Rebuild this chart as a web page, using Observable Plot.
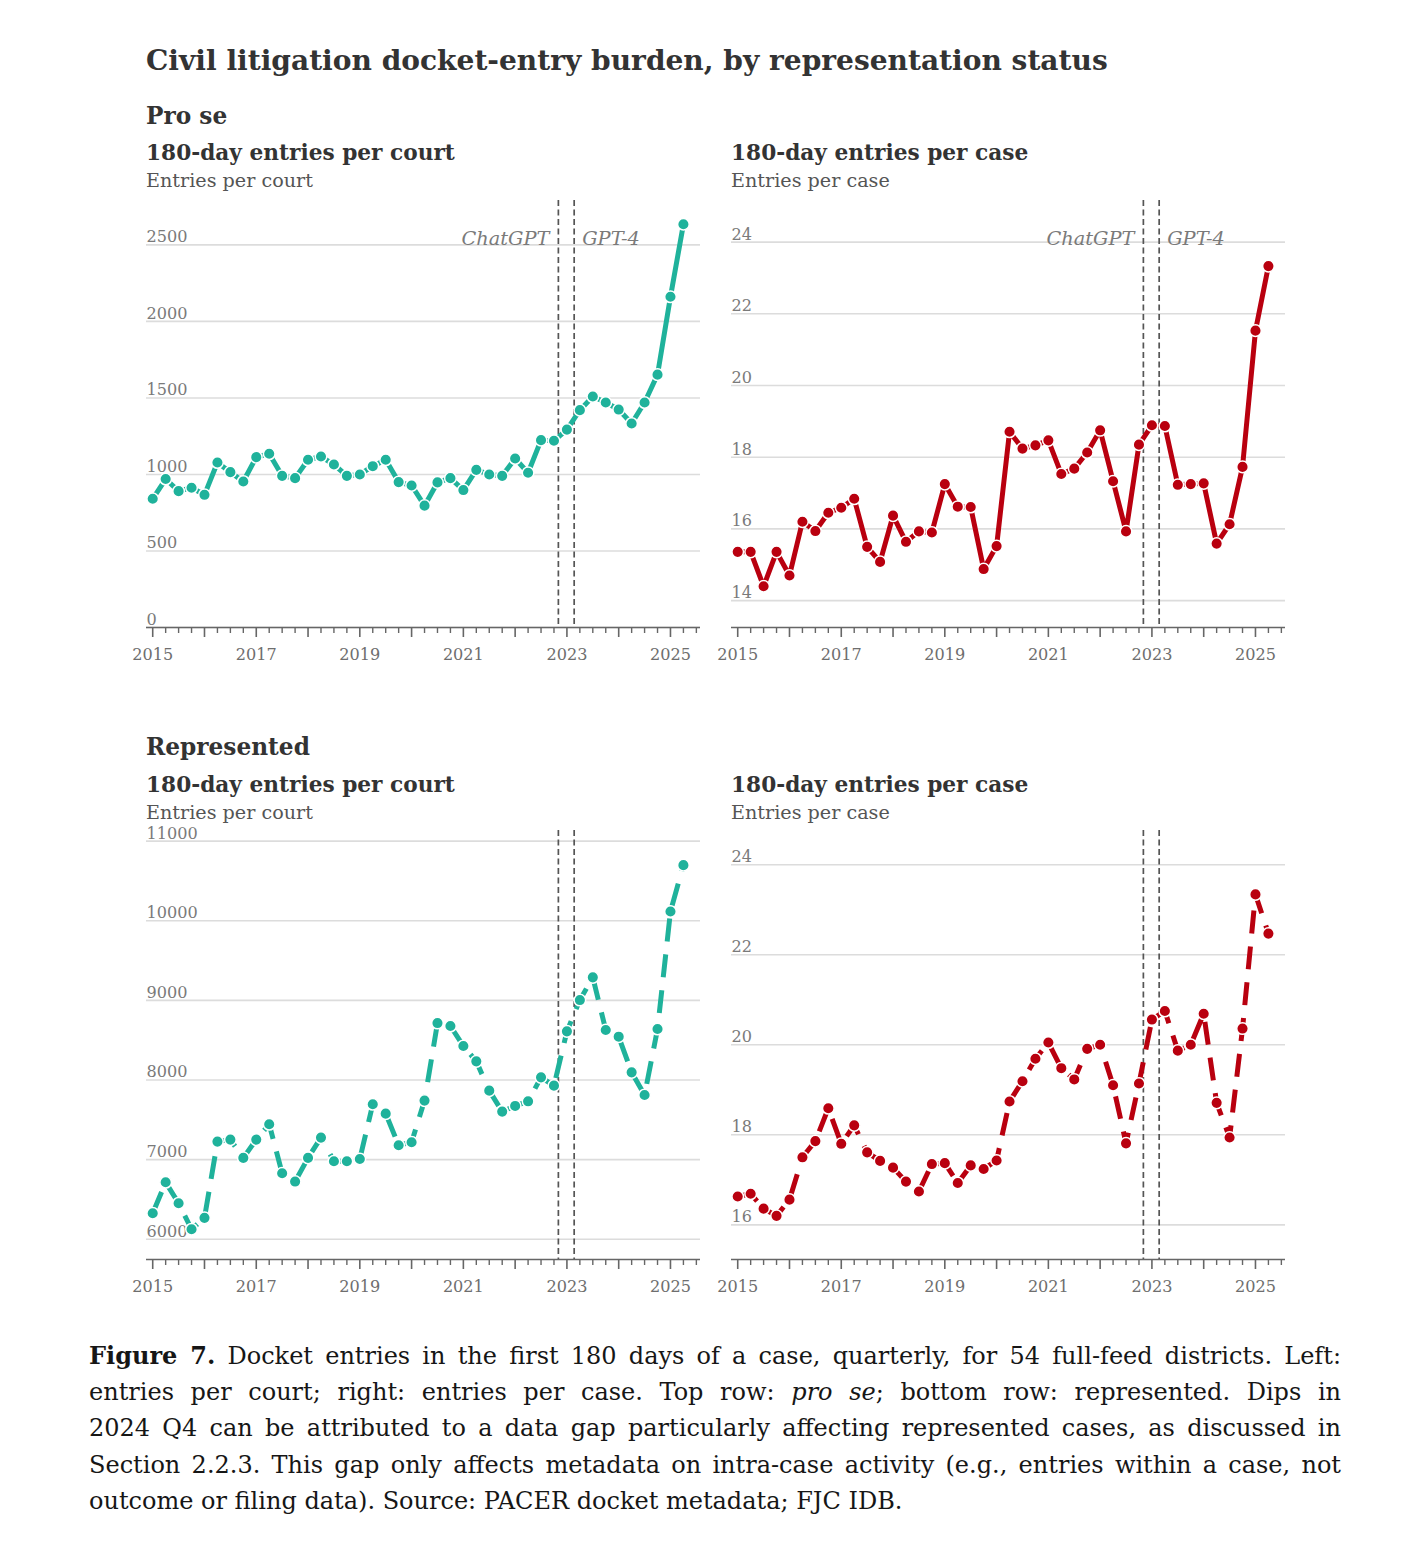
<!DOCTYPE html>
<html><head><meta charset="utf-8">
<script src="https://cdn.jsdelivr.net/npm/d3@7"></script>
<script src="https://cdn.jsdelivr.net/npm/@observablehq/plot@0.6"></script>
<style>
html,body{margin:0;padding:0;background:#fff;}
body{width:1418px;height:1562px;position:relative;font-family:"DejaVu Serif",serif;overflow:hidden;}
.t{position:absolute;white-space:nowrap;line-height:1;}
.cap{position:absolute;left:89px;width:1252px;line-height:1;color:#161616;text-align:justify;text-align-last:justify;white-space:nowrap;}
.cap.last{text-align:left;text-align-last:left;}
.panel{position:absolute;}
</style></head><body>
<script>
// ---------- data ----------
const quarters = [
  "2015 Q1","2015 Q2","2015 Q3","2015 Q4","2016 Q1","2016 Q2","2016 Q3","2016 Q4",
  "2017 Q1","2017 Q2","2017 Q3","2017 Q4","2018 Q1","2018 Q2","2018 Q3","2018 Q4",
  "2019 Q1","2019 Q2","2019 Q3","2019 Q4","2020 Q1","2020 Q2","2020 Q3","2020 Q4",
  "2021 Q1","2021 Q2","2021 Q3","2021 Q4","2022 Q1","2022 Q2","2022 Q3","2022 Q4",
  "2023 Q1","2023 Q2","2023 Q3","2023 Q4","2024 Q1","2024 Q2","2024 Q3","2024 Q4",
  "2025 Q1","2025 Q2"
];
const proSeEntriesPerCourt = [841,970,891,913,867,1078,1015,954,1113,1135,991,976,1096,1117,1065,991,1000,1054,1096,950,928,
  796,948,976,898,1030,1000,991,1104,1011,1224,1220,1293,1420,1509,1470,1424,1333,1470,1652,2161,2635];
const proSeEntriesPerCase = [15.36,15.36,14.40,15.36,14.70,16.20,15.94,16.45,16.59,16.84,15.50,15.08,16.37,15.64,15.93,15.90,17.25,16.62,16.61,14.88,15.52,
  18.71,18.24,18.33,18.47,17.53,17.68,18.13,18.75,17.33,15.93,18.35,18.89,18.87,17.23,17.25,17.27,15.59,16.13,17.73,21.53,23.33];
const representedEntriesPerCourt = [6326,6715,6452,6125,6268,7226,7251,7021,7251,7444,6828,6724,7021,7276,6979,6979,7008,7695,7577,7180,7218,
  7741,8715,8678,8427,8234,7866,7603,7674,7732,8033,7929,8611,9004,9289,8628,8544,8096,7812,8640,10117,10699];
const representedEntriesPerCase = [16.63,16.69,16.36,16.20,16.56,17.50,17.86,18.59,17.80,18.21,17.61,17.42,17.27,16.96,16.74,17.35,17.37,16.93,17.32,17.24,17.43,
  18.74,19.19,19.69,20.05,19.48,19.23,19.91,20.00,19.10,17.81,19.14,20.56,20.75,19.87,20.00,20.69,18.71,17.94,20.36,23.34,22.47];

const yearTicks = [2015,2016,2017,2018,2019,2020,2021,2022,2023,2024,2025];
const yearLabels = [2015,2017,2019,2021,2023,2025];
const courtProSeTicks = [0,500,1000,1500,2000,2500];
const caseProSeTicks = [14,16,18,20,22,24];
const courtRepTicks = [6000,7000,8000,9000,10000,11000];
const caseRepTicks = [16,18,20,22,24];
const eventLabels = ["ChatGPT","GPT-4"];
const eventDates = [2022.835, 2023.14];

const titleText = "Civil litigation docket-entry burden, by representation status";
const rowTitles = ["Pro se","Represented"];
const panelTitles = ["180-day entries per court","180-day entries per case"];
const panelSubtitles = ["Entries per court","Entries per case"];
const captionLines = [
  "<b>Figure 7.</b> Docket entries in the first 180 days of a case, quarterly, for 54 full-feed districts. Left:",
  "entries per court; right: entries per case. Top row: <i>pro se</i>; bottom row: represented. Dips in",
  "2024 Q4 can be attributed to a data gap particularly affecting represented cases, as discussed in",
  "Section 2.2.3. This gap only affects metadata on intra-case activity (e.g., entries within a case, not",
  "outcome or filing data). Source: PACER docket metadata; FJC IDB."
];

// ---------- helpers ----------
const FONT = "DejaVu Serif";
const TEAL = "#1fb29b", RED = "#b9000f";
const qToYear = q => { const [y, qq] = q.split(" Q"); return +y + (+qq - 1) / 4; };
const minorTicks = d3.range(2015, 2025.51, 0.25).filter(d => d % 1 !== 0);
const BASE_RATIO = 0.846; // baseline offset (em) for line-height:1 in DejaVu Serif

function measure(html, size, weight = "normal", style = "normal") {
  const s = document.createElement("span");
  s.style.cssText = `position:absolute;visibility:hidden;white-space:nowrap;font-family:"${FONT}";font-size:${size}px;font-weight:${weight};font-style:${style}`;
  s.innerHTML = html;
  document.body.appendChild(s);
  const w = s.getBoundingClientRect().width;
  s.remove();
  return w;
}
// font size that gives a text a target width
function fitSize(html, target, weight = "normal", style = "normal") {
  return 20 * target / measure(html, 20, weight, style);
}

function place(html, {x, base, size, bold = false, color = "#333"}) {
  const d = document.createElement("div");
  d.className = "t";
  d.innerHTML = html;
  d.style.left = x + "px";
  d.style.top = (base - BASE_RATIO * size) + "px";
  d.style.fontSize = size + "px";
  d.style.fontWeight = bold ? "bold" : "normal";
  d.style.color = color;
  document.body.appendChild(d);
  return d;
}

const tickSize = fitSize("2500", 41);
const eventSize = fitSize("ChatGPT", 88, "normal", "italic");

function panel({values, color, dashed, yDomain, yTicks, labels, left, top, height}) {
  const pts = quarters.map((q, i) => ({x: qToYear(q), y: values[i]}));
  const events = eventLabels.map((label, i) => ({label, x: eventDates[i]}));
  const svg = Plot.plot({
    width: 580, height,
    marginTop: 10, marginBottom: 40, marginLeft: 16, marginRight: 10,
    x: {domain: [2014.88, 2025.58], axis: null},
    y: {domain: yDomain, axis: null},
    style: {fontFamily: FONT, background: "transparent", overflow: "visible"},
    marks: [
      Plot.ruleY(yTicks, {stroke: "#dcdcdc", strokeWidth: 1.6}),
      Plot.text(yTicks, {y: d => d, text: d => String(d), frameAnchor: "left", textAnchor: "start",
        lineAnchor: "bottom", dy: -2.5, fill: "#7a7a7a", fontSize: tickSize}),
      Plot.ruleX(events, {x: "x", stroke: "#555", strokeWidth: 1.7, strokeDasharray: "6,3.5"}),
      labels ? Plot.text(events.slice(0, 1), {x: "x", text: "label", frameAnchor: "top", lineAnchor: "middle",
        dy: 38, dx: -9, textAnchor: "end", fill: "#7a7a7a", fontSize: eventSize, fontStyle: "italic"}) : null,
      labels ? Plot.text(events.slice(1), {x: "x", text: "label", frameAnchor: "top", lineAnchor: "middle",
        dy: 38, dx: 8, textAnchor: "start", fill: "#7a7a7a", fontSize: eventSize, fontStyle: "italic"}) : null,
      Plot.ruleY([yDomain[0]], {stroke: "#666", strokeWidth: 1.6}),
      Plot.axisX(minorTicks, {tickSize: 6, tickFormat: () => "", label: null, stroke: "#666", strokeWidth: 1.4}),
      Plot.axisX(yearTicks, {tickSize: 10, tickPadding: 11, label: null, stroke: "#666", strokeWidth: 1.6,
        tickFormat: d => yearLabels.includes(d) ? String(d) : "", fill: "#6e6e6e", fontSize: tickSize}),
      Plot.line(pts, {x: "x", y: "y", stroke: color, strokeWidth: 5,
        ...(dashed ? {strokeDasharray: "23,13", strokeLinecap: "butt"} : {})}),
      Plot.dot(pts, {x: "x", y: "y", r: 5.8, fill: color, stroke: "white", strokeWidth: 1.5})
    ]
  });
  svg.classList.add("panel");
  svg.style.left = left + "px";
  svg.style.top = top + "px";
  document.body.appendChild(svg);
}

// ---------- headings ----------
const titleSize = fitSize(titleText, 962, "bold");
const rowSize = fitSize(rowTitles[1], 164, "bold");
const pTitleSize = fitSize(panelTitles[0], 309, "bold");
const pSubSize = fitSize(panelSubtitles[0], 167);

place(titleText, {x: 146, base: 71, size: titleSize, bold: true, color: "#333"});
place(rowTitles[0], {x: 146, base: 124, size: rowSize, bold: true, color: "#333"});
place(panelTitles[0], {x: 146, base: 160, size: pTitleSize, bold: true, color: "#333"});
place(panelTitles[1], {x: 731, base: 160, size: pTitleSize, bold: true, color: "#333"});
place(panelSubtitles[0], {x: 146, base: 187, size: pSubSize, color: "#555"});
place(panelSubtitles[1], {x: 731, base: 187, size: pSubSize, color: "#555"});

place(rowTitles[1], {x: 146, base: 755, size: rowSize, bold: true, color: "#333"});
place(panelTitles[0], {x: 146, base: 792, size: pTitleSize, bold: true, color: "#333"});
place(panelTitles[1], {x: 731, base: 792, size: pTitleSize, bold: true, color: "#333"});
place(panelSubtitles[0], {x: 146, base: 819, size: pSubSize, color: "#555"});
place(panelSubtitles[1], {x: 731, base: 819, size: pSubSize, color: "#555"});

// ---------- panels ----------
panel({values: proSeEntriesPerCourt, color: TEAL, dashed: false, yDomain: [0, 2790], yTicks: courtProSeTicks, labels: true, left: 130, top: 190, height: 477});
panel({values: proSeEntriesPerCase, color: RED, dashed: false, yDomain: [13.25, 25.16], yTicks: caseProSeTicks, labels: true, left: 715, top: 190, height: 477});
panel({values: representedEntriesPerCourt, color: TEAL, dashed: true, yDomain: [5745, 11134], yTicks: courtRepTicks, labels: false, left: 130, top: 820, height: 479});
panel({values: representedEntriesPerCase, color: RED, dashed: true, yDomain: [15.23, 24.76], yTicks: caseRepTicks, labels: false, left: 715, top: 820, height: 479});

// ---------- caption ----------
const capSize = Math.min(24, fitSize(captionLines[0], 1238));
const capBase0 = 1364, capStep = 36.3;
captionLines.forEach((html, i) => {
  const d = document.createElement("div");
  d.className = "cap" + (i === captionLines.length - 1 ? " last" : "");
  d.innerHTML = html;
  d.style.fontSize = capSize + "px";
  d.style.top = (capBase0 + i * capStep - BASE_RATIO * capSize) + "px";
  document.body.appendChild(d);
});
</script>
</body></html>
